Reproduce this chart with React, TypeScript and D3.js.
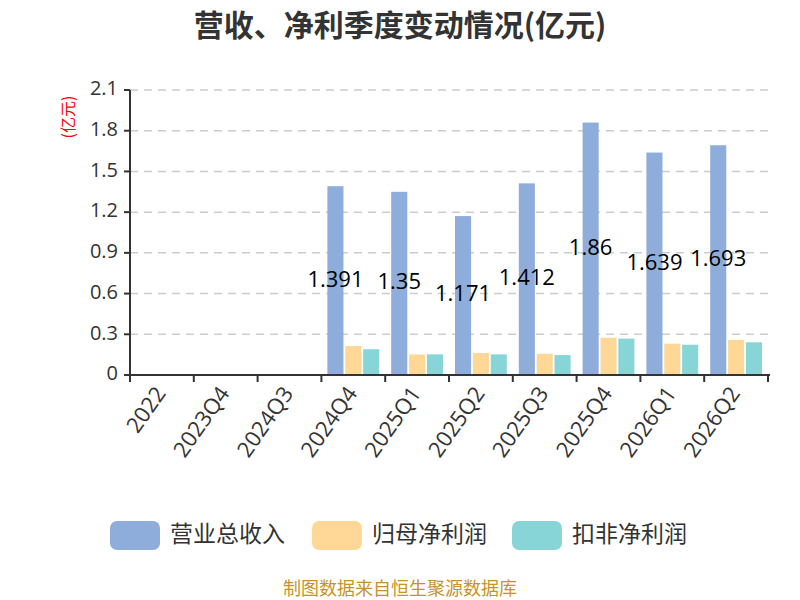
import React from 'react';
import * as d3 from 'd3';

const categories = ['2022', '2023Q4', '2024Q3', '2024Q4', '2025Q1', '2025Q2', '2025Q3', '2025Q4', '2026Q1', '2026Q2'];
const seriesNames = ['营业总收入', '归母净利润', '扣非净利润'];
const revenue = [null, null, null, 1.391, 1.35, 1.171, 1.412, 1.86, 1.639, 1.693];
const parentProfit = [null, null, null, 0.214, 0.152, 0.162, 0.157, 0.275, 0.231, 0.258];
const deductedProfit = [null, null, null, 0.19, 0.152, 0.152, 0.147, 0.268, 0.223, 0.241];
const yTicks = [0, 0.3, 0.6, 0.9, 1.2, 1.5, 1.8, 2.1];
const colors = ['#8EADDB', '#FFD898', '#88D5D8'];

const W = 800;
const H = 600;
const left = 130;
const right = 768;
const top = 90;
const bottom = 375;
const font = '"Noto Sans CJK SC", "Noto Sans", sans-serif';
const numFont = '"Open Sans", "Noto Sans", sans-serif';

export default function App() {
  const series = [revenue, parentProfit, deductedProfit];
  const x = d3.scaleBand<string>().domain(categories).range([left, right]);
  const inner = d3
    .scaleBand<number>()
    .domain([0, 1, 2])
    .range([6, x.bandwidth() - 6])
    .paddingInner(0.1);
  const y = d3.scaleLinear().domain([0, 2.1]).range([bottom, top]);

  const boundaries = categories.map((c) => x(c)!).concat([right]);

  return (
    <svg
      width={W}
      height={H}
      style={{ position: 'absolute', left: 0, top: 0, background: '#fff' }}
      fontFamily={font}
    >
      <text x={400} y={36} textAnchor="middle" fontSize={30} fontWeight="bold" fill="#333">
        营收、净利季度变动情况(亿元)
      </text>

      {/* grid */}
      {yTicks.slice(1).map((t) => (
        <line key={t} x1={left} x2={right} y1={y(t)} y2={y(t)} stroke="#ccc" strokeWidth={1.5} strokeDasharray="8,6" />
      ))}

      {/* bars */}
      {categories.map((c, i) => (
        <g key={c}>
          {series.map((s, j) =>
            s[i] == null ? null : (
              <rect
                key={j}
                x={x(c)! + inner(j)!}
                y={y(s[i] as number)}
                width={inner.bandwidth()}
                height={bottom - y(s[i] as number)}
                fill={colors[j]}
              />
            )
          )}
        </g>
      ))}

      {/* value labels */}
      {categories.map((c, i) =>
        revenue[i] == null ? null : (
          <text
            key={c}
            x={x(c)! + inner(0)! + inner.bandwidth() / 2}
            y={(y(revenue[i] as number) + bottom) / 2}
            textAnchor="middle"
            dominantBaseline="middle"
            fontSize={22}
            fontFamily={numFont}
            fill="#000"
          >
            {revenue[i]}
          </text>
        )
      )}

      {/* y axis */}
      <line x1={left} x2={left} y1={top} y2={bottom + 6} stroke="#333" strokeWidth={2} />
      {yTicks.map((t) => (
        <g key={t}>
          <line x1={left - 6} x2={left} y1={y(t)} y2={y(t)} stroke="#333" strokeWidth={2} />
          <text
            x={left - 12}
            y={y(t)}
            textAnchor="end"
            dominantBaseline="middle"
            fontSize={20}
            fontFamily={numFont}
            fill="#333"
          >
            {t}
          </text>
        </g>
      ))}
      <text
        transform={`translate(70,117) rotate(-90)`}
        textAnchor="middle"
        dominantBaseline="middle"
        fontSize={16}
        fill="#f00"
      >
        (亿元)
      </text>

      {/* x axis */}
      <line x1={left - 6} x2={right + 2} y1={bottom} y2={bottom} stroke="#333" strokeWidth={2} />
      {boundaries.map((b, i) => (
        <line key={i} x1={b} x2={b} y1={bottom} y2={bottom + 7} stroke="#333" strokeWidth={2} />
      ))}
      {categories.map((c) => (
        <text
          key={c}
          transform={`translate(${x(c)! + x.bandwidth() / 2},${bottom + 15}) rotate(-55)`}
          textAnchor="end"
          dominantBaseline="middle"
          fontSize={22}
          fontFamily={numFont}
          fill="#333"
        >
          {c}
        </text>
      ))}

      {/* legend */}
      {seriesNames.map((n, j) => {
        const lx = [110, 312, 512][j];
        return (
          <g key={n}>
            <rect x={lx} y={521} width={50} height={29} rx={7} fill={colors[j]} />
            <text x={lx + 60} y={536} dominantBaseline="middle" fontSize={23} fill="#333">
              {n}
            </text>
          </g>
        );
      })}

      <text x={400} y={590} textAnchor="middle" dominantBaseline="middle" fontSize={18} fill="#C8922B">
        制图数据来自恒生聚源数据库
      </text>
    </svg>
  );
}
